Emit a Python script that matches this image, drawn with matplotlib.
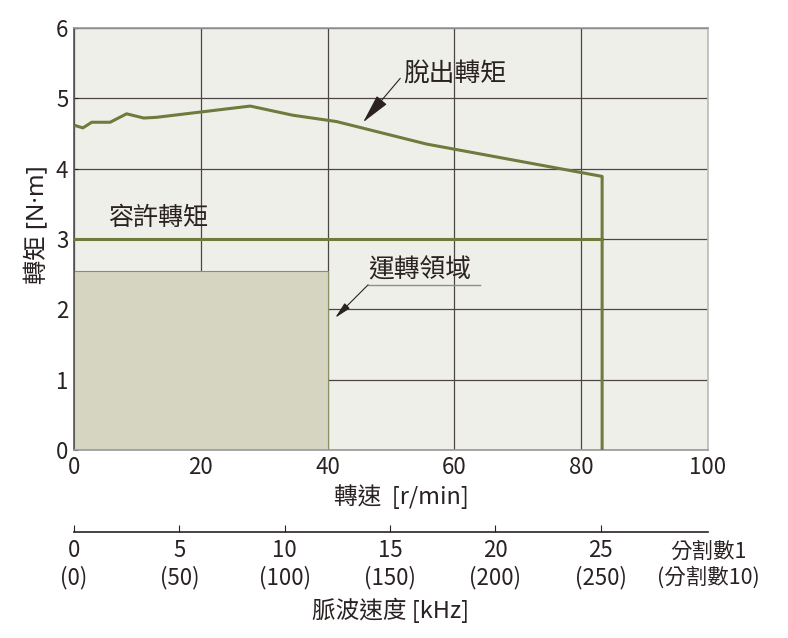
import matplotlib
matplotlib.use('Agg')
import matplotlib.pyplot as plt
from matplotlib.patches import Rectangle

plt.rcParams['font.family'] = ['Noto Sans CJK TC', 'DejaVu Sans']

# 脫出轉矩曲線 (轉速 r/min, 轉矩 N·m)
pullout_speed = [0.3, 1.4, 2.8, 5.7, 8.3, 11.0, 13.0, 27.8, 34.5, 41.4, 55.6, 83.3, 83.3]
pullout_torque = [4.61, 4.58, 4.66, 4.66, 4.78, 4.72, 4.73, 4.89, 4.76, 4.67, 4.35, 3.89, 0.0]

# 容許轉矩
allow_speed = [0, 83.3]
allow_torque = [3.0, 3.0]

# 運轉領域
region_speed = 40
region_torque = 2.55

# 脈波速度軸
pulse_khz = [0, 5, 10, 15, 20, 25]
pulse_labels = ['0\n(0)', '5\n(50)', '10\n(100)', '15\n(150)', '20\n(200)', '25\n(250)']
speed_per_khz = 83.1 / 25

line_color = '#6e7b3c'
dark = '#2a2222'

fig = plt.figure(figsize=(7.88, 6.38), dpi=100)
ax = fig.add_axes([74 / 788, 1 - 450 / 638, 634 / 788, 422 / 638])
ax.set_facecolor('#efefea')
ax.set_xlim(0, 100)
ax.set_ylim(0, 6)
ax.set_xticks(range(0, 101, 20))
ax.set_yticks(range(0, 7))
ax.set_axisbelow(True)
ax.grid(True, color='#4d4545', lw=0.9)

ax.add_patch(Rectangle((0, 0), region_speed, region_torque, facecolor='#d5d5c1',
                       edgecolor='#8a9060', lw=0.8, zorder=1))
ax.plot(allow_speed, allow_torque, color=line_color, lw=2.2, zorder=3)
ax.plot(pullout_speed, pullout_torque, color=line_color, lw=2.2, zorder=3)

ax.spines['left'].set_color('#555555')
ax.spines['bottom'].set_color('#999999')
ax.spines['top'].set_color('#999999')
ax.spines['right'].set_color('#bbbbbb')
for s in ax.spines.values():
    s.set_linewidth(1.2)

ax.tick_params(axis='y', direction='in', length=3, color=dark, labelsize=16,
               labelcolor=dark, pad=4)
ax.tick_params(axis='x', length=0, labelsize=16, labelcolor=dark, pad=4)
ax.set_ylabel('轉矩 [N·m]', fontsize=17.5, color=dark,
              family=['Noto Sans', 'Noto Sans CJK TC'])
ax.yaxis.set_label_coords(-0.038, 0.535)
ax.set_xlabel('轉速  [r/min]', fontsize=17, color=dark)
ax.xaxis.set_label_coords(0.516, -0.082)

# 標註
ax.annotate('脫出轉矩', xy=(45.6, 4.66), xytext=(51.9, 5.35), fontsize=18.5, color=dark,
            va='center', ha='left',
            arrowprops=dict(arrowstyle='-|>,head_length=1.0,head_width=0.22',
                            color=dark, lw=0.8, shrinkA=0, shrinkB=0,
                            relpos=(0, 0.45)))
ax.text(5.4, 3.30, '容許轉矩', fontsize=18, color=dark, va='center', ha='left')
ax.text(46.4, 2.56, '運轉領域', fontsize=18.5, color=dark, va='center', ha='left')
ax.plot([46.4, 64.0], [2.35, 2.35], color='#8c8c8c', lw=1.0, zorder=4)
ax.annotate('', xy=(41.2, 1.88), xytext=(46.4, 2.35),
            arrowprops=dict(arrowstyle='-|>,head_length=1.0,head_width=0.22',
                            color=dark, lw=0.8, shrinkA=0, shrinkB=0))

# 脈波速度軸
sec = ax.secondary_xaxis(-82 / 422, functions=(lambda r: r / speed_per_khz,
                                               lambda k: k * speed_per_khz))
sec.set_xticks(pulse_khz)
sec.set_xticklabels(pulse_labels, linespacing=1.2)
sec.tick_params(direction='in', length=5, width=0.8, color=dark, labelsize=16,
                labelcolor=dark, pad=5)
sec.spines['bottom'].set_color(dark)
sec.spines['bottom'].set_linewidth(1.2)
sec.set_xlabel('脈波速度 [kHz]', fontsize=17, color=dark, labelpad=6)
ax.text(100, -82 / 422 * 6 - 0.12, '分割數1\n(分割數10)', fontsize=15.5, color=dark,
        ha='center', va='top', linespacing=1.2, clip_on=False)

fig.savefig('out.png', dpi=100)
